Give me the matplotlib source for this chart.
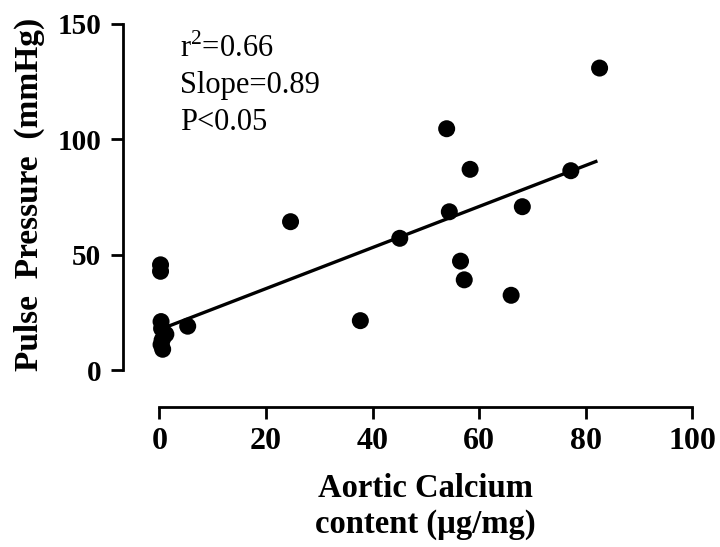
import numpy as np
import matplotlib
matplotlib.use("Agg")
import matplotlib.pyplot as plt

plt.rcParams['font.family'] = ['Liberation Serif', 'DejaVu Serif']
plt.rcParams['mathtext.fontset'] = 'custom'
plt.rcParams['mathtext.rm'] = 'Liberation Serif'

# aortic calcium content (ug/mg) vs pulse pressure (mmHg)
calcium = [0.2, 0.2, 0.3, 0.4, 1.2, 0.5, 0.3, 0.6, 5.3,
           24.6, 37.7, 45.1, 53.9, 54.4, 56.5, 57.2, 58.3,
           66.0, 68.1, 77.2, 82.6]
pressure = [45.6, 42.8, 21.0, 18.0, 15.5, 13.0, 11.0, 9.0, 19.0,
            64.3, 21.4, 57.1, 104.6, 68.6, 47.2, 39.1, 87.0,
            32.4, 70.8, 86.4, 130.9]

# linear fit reported on the figure
slope = 0.89
intercept = 17.5
stats = ['r$^2$=0.66', 'Slope=0.89', 'P<0.05']

xticks = [0, 20, 40, 60, 80, 100]
yticks = [0, 50, 100, 150]

fig = plt.figure(figsize=(7.2, 5.47), dpi=100)
ax = fig.add_axes([122.7 / 720, 1 - 406.7 / 547, 569.6 / 720, 382.7 / 547])

ax.scatter(calcium, pressure, s=150, color='black', edgecolors='none',
           zorder=3, clip_on=False)

xfit = np.array([min(calcium), max(calcium) - 0.7])
ax.plot(xfit, intercept + slope * xfit, color='black', lw=2.4, zorder=2)

ax.set_xlim(-6.9, 100)
ax.set_ylim(-15.9, 150)
ax.spines['top'].set_visible(False)
ax.spines['right'].set_visible(False)
ax.spines['left'].set_bounds(0, 150)
ax.spines['bottom'].set_bounds(0, 100)
for s in ['left', 'bottom']:
    ax.spines[s].set_linewidth(2)
    ax.spines[s].set_capstyle('projecting')

ax.set_xticks(xticks)
ax.set_yticks(yticks)
ax.tick_params(axis='both', direction='out', length=8.6, width=2)
ax.tick_params(axis='x', pad=6, labelsize=23)
ax.tick_params(axis='y', pad=7, labelsize=21)
for lab in ax.get_xticklabels() + ax.get_yticklabels():
    lab.set_fontweight('bold')

ax.patch.set_visible(False)

for i, s in enumerate(stats):
    fig.text(180 / 720, 1 - (57 + 36.5 * i) / 547, s, fontsize=22,
             ha='left', va='baseline')

fig.text(29 / 720, 1 - 194 / 547, 'Pulse  Pressure  (mmHg)', rotation=90,
         fontsize=24, fontweight='bold', ha='center', va='center')
fig.text(425.5 / 720, 1 - 497 / 547, 'Aortic Calcium', fontsize=23.5,
         fontweight='bold', ha='center', va='baseline')
fig.text(425.5 / 720, 1 - 533 / 547, 'content (\u00b5g/mg)', fontsize=23.5,
         fontweight='bold', ha='center', va='baseline')

fig.savefig('out.png', dpi=100, facecolor='white')
